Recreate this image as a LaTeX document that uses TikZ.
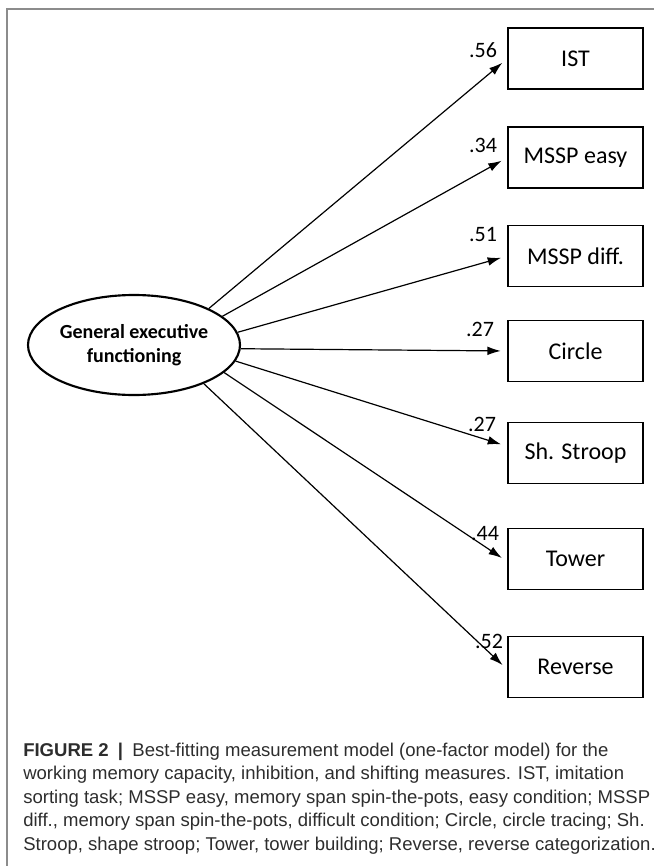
\documentclass[tikz,border=0pt]{standalone}
\usepackage{fontspec}
\usepackage{tikz}
\usetikzlibrary{arrows.meta}
\usetikzlibrary{shapes.geometric}
\setmainfont{Carlito}
\newfontfamily\capfont{Liberation Sans}
\definecolor{framegray}{RGB}{140, 140, 140}
\definecolor{captext}{RGB}{45, 45, 45}

\begin{document}
\begin{tikzpicture}[x=0.75pt, y=-0.75pt,
    latent/.style={ellipse, draw, line width=1.6pt, minimum width=159pt, minimum height=75pt,
        inner sep=0pt, align=center, font=\fontsize{15pt}{17.5pt}\selectfont\bfseries},
    obs/.style={rectangle, draw, line width=1.1pt, minimum width=101pt, minimum height=45.5pt,
        font=\fontsize{18pt}{21pt}\selectfont},
    load/.style={line width=0.9pt, -{Latex[length=10pt, width=6.5pt]}, shorten >=5pt},
    coef/.style={font=\fontsize{16.5pt}{19pt}\selectfont, inner sep=0pt}]
            \useasboundingbox (0,0) rectangle (654,866);
            \draw[framegray, line width=0.8pt] (7,866) -- (7,9) -- (654,9);
            % factor and measures
            \node[latent] (gef) at (134,345) {General executive\\functioning};
            \node[obs] (ist)    at (575.5, 58.5) {IST};
            \node[obs] (easy)   at (575.5,157.5) {MSSP easy};
            \node[obs] (diff)   at (575.5,256.0) {MSSP diff.};
            \node[obs] (circle) at (575.5,351.0) {Circle};
            \node[obs] (stroop) at (575.5,453.0) {Sh. Stroop};
            \node[obs] (tower)  at (575.5,559.0) {Tower};
            \node[obs] (rev)    at (575.5,667.0) {Reverse};
            % loadings
            \draw[load] (gef.26)   -- (ist.west);
            \draw[load] (gef.18.6) -- (easy.west);
            \draw[load] (gef.7.7)  -- (diff.west);
            \draw[load] (gef.-2.6) -- (circle.west);
            \draw[load] (gef.-9.4) -- ([yshift=5pt]stroop.west);
            \draw[load] (gef.-17)  -- ([yshift=-2pt]tower.west);
            \draw[load] (gef.-29)  -- ([yshift=-2pt]rev.west);
            \node[coef] (c1) at (483,50)  {.56};
            \node[coef] (c2) at (483,145) {.34};
            \node[coef] (c3) at (483,235) {.51};
            \node[coef] (c4) at (480,329) {.27};
            \node[coef] (c5) at (482,424) {.27};
            \node[coef] (c6) at (485,534) {.44};
            \node[coef] (c7) at (489,641) {.52};
            % caption
            \node[anchor=base west, inner sep=0pt, align=left, text=captext,
                  font=\capfont\fontsize{13.9pt}{17.6pt}\selectfont] (cap) at (23,850)
                {\textbf{FIGURE 2}\enspace\textbf{|}\enspace Best-fitting measurement model (one-factor model) for the\\
                 working memory capacity, inhibition, and shifting measures. IST, imitation\\
                 sorting task; MSSP easy, memory span spin-the-pots, easy condition; MSSP\\
                 diff., memory span spin-the-pots, difficult condition; Circle, circle tracing; Sh.\\
                 Stroop, shape stroop; Tower, tower building; Reverse, reverse categorization.};
\end{tikzpicture}
\end{document}
